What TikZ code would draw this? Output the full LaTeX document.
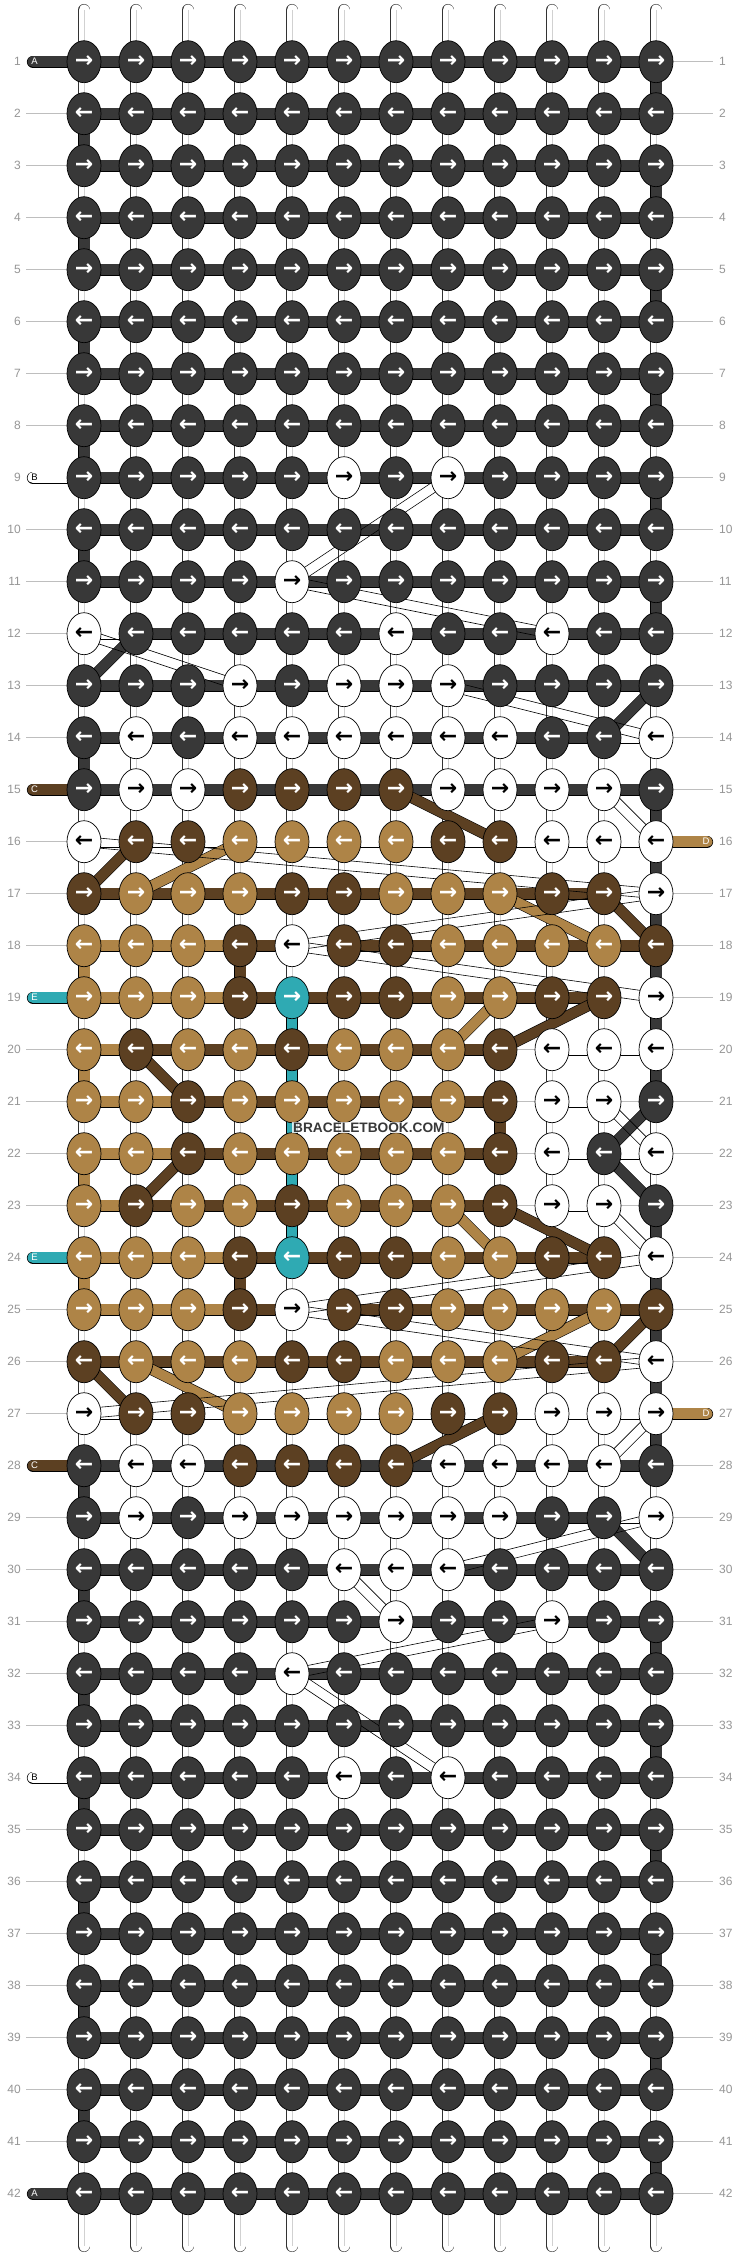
\documentclass[tikz,border=0pt]{standalone}
\usepackage{fontspec}
\setmainfont{Liberation Sans}
\newfontfamily\arrowfont{DejaVu Sans}
\usepackage{tikz}
\usetikzlibrary{shapes.geometric,calc}

\definecolor{kA}{RGB}{56,56,56}
\definecolor{kB}{RGB}{255,255,255}
\definecolor{kC}{RGB}{92,64,34}
\definecolor{kD}{RGB}{174,132,71}
\definecolor{kE}{RGB}{47,170,179}
\colorlet{aA}{white}
\colorlet{aB}{black}
\colorlet{aC}{white}
\colorlet{aD}{white}
\colorlet{aE}{white}
\definecolor{numgray}{RGB}{150,150,150}
\definecolor{linegray}{RGB}{190,190,190}

\newcommand\knotfont{\arrowfont\bfseries\fontsize{22}{22}\selectfont}
\newcommand\numfont{\fontsize{12}{12}\selectfont}
\newcommand\tagfont{\fontsize{9.5}{9.5}\selectfont}
\newcommand\arr[1]{\ifodd#1 →\else ←\fi}

\pgfdeclarelayer{bg}
\pgfsetlayers{bg,main}

\tikzstyle{knot} = [ellipse, draw=black, line width=0.7pt, minimum width=34pt, minimum height=42pt, inner sep=0pt, font=\knotfont]
\tikzstyle{warp} = [line width=0.5pt, draw=black!80, double=white, double distance=11pt, line cap=round]
\tikzstyle{warpmid} = [draw=black!18, line width=0.8pt]
\tikzstyle{barA} = [line width=0.6pt, draw=black, double=kA, double distance=11pt]
\tikzstyle{barB} = [line width=0.6pt, draw=black, double=white, double distance=11pt]
\tikzstyle{barC} = [line width=0.6pt, draw=black, double=kC, double distance=11pt]
\tikzstyle{barD} = [line width=0.6pt, draw=black, double=kD, double distance=11pt]
\tikzstyle{barE} = [line width=0.6pt, draw=black, double=kE, double distance=10pt]
\tikzstyle{barG} = [draw=linegray, line width=0.8pt]
\tikzstyle{barN} = [draw=none]
\tikzstyle{band} = [line width=0.6pt, draw=black, double distance=10pt]
\tikzstyle{wband} = [line width=0.6pt, draw=black]
\tikzstyle{pill} = [line width=0.6pt, draw=black, double distance=11pt, line cap=round]
\tikzstyle{num} = [font=\numfont, text=numgray, inner sep=0pt]
\tikzstyle{threadtag} = [font=\tagfont, inner sep=0pt]
\tikzstyle{rowline} = [draw=linegray, line width=0.8pt]
\tikzstyle{stamp} = [fill=white, fill opacity=0.8, text opacity=1, text=kA, font=\bfseries\fontsize{13.7}{14}\selectfont, inner sep=1pt]

\begin{document}
\begin{tikzpicture}[x=1pt, y=-1pt]
\useasboundingbox (0,0) rectangle (740,2256);
%-----------------------------------------------
% knots
\foreach \rw in {1,2,3,4,5,6,7,8,10,33,35,36,37,38,39,40,41,42}
  \foreach \cl in {1,...,12}
    \node[knot, fill=kA, text=aA] (k\rw-\cl) at (52*\cl+32, 52*\rw+9.7) {\arr{\rw}};
\foreach \rw/\knots in {
  9/{A,A,A,A,A,B,A,B,A,A,A,A},
  11/{A,A,A,A,B,A,A,A,A,A,A,A},
  12/{B,A,A,A,A,A,B,A,A,B,A,A},
  13/{A,A,A,B,A,B,B,B,A,A,A,A},
  14/{A,B,A,B,B,B,B,B,B,A,A,B},
  15/{A,B,B,C,C,C,C,B,B,B,B,A},
  16/{B,C,C,D,D,D,D,C,C,B,B,B},
  17/{C,D,D,D,C,C,D,D,D,C,C,B},
  18/{D,D,D,C,B,C,C,D,D,D,D,C},
  19/{D,D,D,C,E,C,C,D,D,C,C,B},
  20/{D,C,D,D,C,D,D,D,C,B,B,B},
  21/{D,D,C,D,D,D,D,D,C,B,B,A},
  22/{D,D,C,D,D,D,D,D,C,B,A,B},
  23/{D,C,D,D,C,D,D,D,C,B,B,A},
  24/{D,D,D,C,E,C,C,D,D,C,C,B},
  25/{D,D,D,C,B,C,C,D,D,D,D,C},
  26/{C,D,D,D,C,C,D,D,D,C,C,B},
  27/{B,C,C,D,D,D,D,C,C,B,B,B},
  28/{A,B,B,C,C,C,C,B,B,B,B,A},
  29/{A,B,A,B,B,B,B,B,B,A,A,B},
  30/{A,A,A,A,A,B,B,B,A,A,A,A},
  31/{A,A,A,A,A,A,B,A,A,B,A,A},
  32/{A,A,A,A,B,A,A,A,A,A,A,A},
  34/{A,A,A,A,A,B,A,B,A,A,A,A}}
  \foreach \k [count=\cl] in \knots
    \node[knot, fill=k\k, text=a\k] (k\rw-\cl) at (52*\cl+32, 52*\rw+9.7) {\arr{\rw}};
%-----------------------------------------------
% row numbers and thread tags
\foreach \rw in {1,...,42} {
  \node[num, anchor=east] (nl\rw) at (21, 52*\rw+9.7) {\rw};
  \node[num, anchor=west] (nr\rw) at (719, 52*\rw+9.7) {\rw};
}
\foreach \rw/\k in {1/A,9/B,15/C,19/E,24/E,28/C,34/B,42/A}
  \node[threadtag, text=a\k] (tl\rw) at (34.5, 52*\rw+9.7) {\k};
\foreach \rw in {16,27}
  \node[threadtag, text=aD] (tr\rw) at (706, 52*\rw+9.7) {D};
\node[stamp, anchor=west] (wm) at (292, 1127.5) {BRACELETBOOK.COM};
%-----------------------------------------------
\begin{pgfonlayer}{bg}
\fill[white] (0,0) rectangle (740,2256);
% strings
\foreach \cl in {1,...,12} {
  \coordinate (top\cl) at (52*\cl+32, 10);
  \coordinate (bot\cl) at (52*\cl+32, 2246);
  \draw[warp] (top\cl) -- (bot\cl);
  \draw[warpmid] (top\cl) -- (bot\cl);
}
% row lines
\foreach \rw in {2,3,4,5,6,7,8,10,11,12,13,14,16,17,18,20,21,22,23,25,26,27,29,30,31,32,33,35,36,37,38,39,40,41}
  \draw[rowline] ($(nl\rw.east)+(5,0)$) -- (k\rw-1.west);
\foreach \rw in {1,2,3,4,5,6,7,8,9,10,11,12,13,14,15,17,18,19,20,21,22,23,24,25,26,28,29,30,31,32,33,34,35,36,37,38,39,40,41,42}
  \draw[rowline] (k\rw-12.east) -- ($(nr\rw.west)+(-6,0)$);
% tags
\foreach \rw/\k in {1/A,9/B,15/C,19/E,24/E,28/C,34/B,42/A} {
  \coordinate (pl\rw) at (33, 52*\rw+9.7);
  \draw[pill, double=k\k] (pl\rw) -- (k\rw-1.center);
}
\foreach \rw in {16,27} {
  \coordinate (pr\rw) at (707, 52*\rw+9.7);
  \draw[pill, double=kD] (k\rw-12.center) -- (pr\rw);
}
% bars
\foreach \rw in {1,2,3,4,5,6,7,8,9,10,11,13,15,28,30,31,32,33,34,35,36,37,38,39,40,41,42}
  \foreach \cl in {1,...,11} {
    \pgfmathtruncatemacro\nx{\cl+1}
    \draw[barA] (k\rw-\cl.center) -- (k\rw-\nx.center);
  }
\foreach \rw/\bars in {
  12/{B,A,A,A,A,A,A,A,A,A,A},
  14/{A,A,A,A,A,A,A,A,A,A,B},
  16/{B,B,B,B,B,B,B,B,B,B,B},
  17/{C,C,C,C,C,C,C,C,C,C,N},
  18/{D,D,D,C,N,C,C,C,C,C,C},
  19/{D,D,D,C,C,C,C,C,C,C,N},
  20/{D,C,C,C,C,C,C,C,G,B,B},
  21/{D,D,C,C,C,C,C,C,G,B,G},
  22/{D,D,C,C,C,C,C,C,G,B,B},
  23/{D,C,C,C,C,C,C,C,G,B,G},
  24/{D,D,D,C,C,C,C,C,C,C,N},
  25/{D,D,D,C,N,C,C,C,C,C,C},
  26/{C,C,C,C,C,C,C,C,C,C,N},
  27/{B,B,B,B,B,B,B,B,B,B,B},
  29/{A,A,A,A,A,A,A,A,A,A,B}}
  \foreach \b [count=\cl] in \bars {
    \pgfmathtruncatemacro\nx{\cl+1}
    \draw[bar\b] (k\rw-\cl.center) -- (k\rw-\nx.center);
  }
% turns down the columns
\foreach \cl/\rw/\k in {
  1/2/A, 1/4/A, 1/6/A, 1/8/A, 1/10/A, 1/14/A, 1/28/A, 1/30/A, 1/32/A, 1/34/A, 1/36/A, 1/38/A, 1/40/A,
  12/1/A, 12/3/A, 12/5/A, 12/7/A, 12/9/A, 12/11/A, 12/15/A, 12/16/A, 12/17/A, 12/18/A, 12/19/A, 12/20/A,
  12/23/A, 12/24/A, 12/25/A, 12/26/A, 12/27/A, 12/31/A, 12/33/A, 12/35/A, 12/37/A, 12/39/A, 12/41/A,
  1/18/D, 1/20/D, 1/22/D, 1/24/D, 4/18/C, 4/24/C, 9/21/C,
  5/19/E, 5/20/E, 5/21/E, 5/22/E, 5/23/E} {
  \pgfmathtruncatemacro\nx{\rw+1}
  \draw[bar\k] (k\rw-\cl.center) -- (k\nx-\cl.center);
}
% threads carried across
\foreach \ra/\ca/\rb/\cb/\k in {
  13/1/12/2/A, 14/11/13/12/A, 21/12/22/11/A, 22/11/23/12/A, 29/11/30/12/A,
  15/7/16/9/C, 17/1/16/2/C, 17/11/18/12/C, 20/2/21/3/C, 20/9/19/11/C,
  22/3/23/2/C, 23/9/24/11/C, 25/12/26/11/C, 26/1/27/2/C, 27/9/28/7/C,
  16/4/17/2/D, 18/11/17/9/D, 20/8/19/9/D, 23/8/24/9/D, 25/11/26/9/D, 26/2/27/4/D}
  \draw[band, double=k\k] (k\ra-\ca.center) -- (k\rb-\cb.center);
\foreach \ra/\ca/\rb/\cb in {
  9/8/11/5, 11/5/12/10, 12/1/13/4, 13/8/14/12, 15/11/16/12, 16/1/17/12,
  17/12/18/5, 18/5/19/12, 21/11/22/12, 23/11/24/12, 24/12/25/5, 25/5/26/12,
  26/12/27/1, 27/12/28/11, 29/12/30/8, 30/6/31/7, 31/10/32/5, 32/5/34/8} {
  \draw[wband] ($(k\ra-\ca.center)!5pt!90:(k\rb-\cb.center)$) -- ($(k\rb-\cb.center)!5pt!-90:(k\ra-\ca.center)$);
  \draw[wband] ($(k\ra-\ca.center)!5pt!-90:(k\rb-\cb.center)$) -- ($(k\rb-\cb.center)!5pt!90:(k\ra-\ca.center)$);
}
\end{pgfonlayer}
\end{tikzpicture}
\end{document}
